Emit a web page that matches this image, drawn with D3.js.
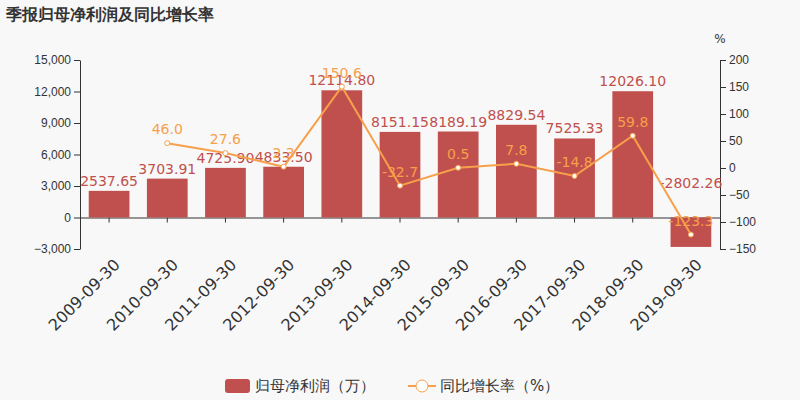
<!DOCTYPE html>
<html><head><meta charset="utf-8">
<script src="https://cdn.jsdelivr.net/npm/d3@7"></script>
<style>body{margin:0;background:#f8f8f8;font-family:"DejaVu Sans",sans-serif}</style>
</head><body><svg id="c" width="800" height="400"></svg>
<script>
var dates = ["2009-09-30","2010-09-30","2011-09-30","2012-09-30","2013-09-30","2014-09-30","2015-09-30","2016-09-30","2017-09-30","2018-09-30","2019-09-30"];
var profit = [2537.65,3703.91,4725.90,4833.50,12114.80,8151.15,8189.19,8829.54,7525.33,12026.10,-2802.26];
var growth = [null,46.0,27.6,2.3,150.6,-32.7,0.5,7.8,-14.8,59.8,-123.3];
var leftTicks = [-3000,0,3000,6000,9000,12000,15000];
var rightTicks = [-150,-100,-50,0,50,100,150,200];

var barColor="#c0504d", lineColor="#f7a04b";
var svg=d3.select("#c");
var x=d3.scaleBand().domain(dates).range([80,720]).paddingInner(0.3).paddingOuter(0.15);
var yL=d3.scaleLinear().domain([-3000,15000]).range([249,60]);
var yR=d3.scaleLinear().domain([-150,200]).range([249,60]);

svg.append("text").attr("x",6).attr("y",20).text("季报归母净利润及同比增长率")
  .style("font-size","16px").style("font-weight","bold").attr("fill","#333");

var gl=svg.append("g").attr("transform","translate(80,0)").call(d3.axisLeft(yL).tickValues(leftTicks).tickFormat(d3.format(",")).tickSizeOuter(0));
var gr=svg.append("g").attr("transform","translate(720,0)").call(d3.axisRight(yR).tickValues(rightTicks).tickSizeOuter(0));
svg.append("text").attr("x",720).attr("y",43).attr("text-anchor","middle").text("%").style("font-size","12px").attr("fill","#333");
[gl,gr].forEach(function(g){g.selectAll("text").style("font-size","12px").attr("fill","#333");g.selectAll("line,path").attr("stroke","#333");});

var gx=svg.append("g").attr("transform","translate(0,"+yL(0)+")").call(d3.axisBottom(x).tickSizeOuter(0).tickSize(5));
gx.selectAll("line,path").attr("stroke","#333");
gx.selectAll("text").remove();
svg.append("g").selectAll("text").data(dates).enter().append("text")
  .attr("transform",function(d){return "translate("+(x(d)+x.bandwidth()/2+4)+",258) rotate(-45)";})
  .attr("text-anchor","end").attr("dy","0.7em").text(function(d){return d;})
  .style("font-size","16px").attr("fill","#333");

svg.append("g").selectAll("rect").data(profit).enter().append("rect")
  .attr("x",function(d,i){return x(dates[i]);}).attr("width",x.bandwidth())
  .attr("y",function(d){return yL(Math.max(0,d));}).attr("height",function(d){return Math.abs(yL(d)-yL(0));})
  .attr("fill",barColor);

svg.append("g").selectAll("text").data(profit).enter().append("text")
  .attr("x",function(d,i){return x(dates[i])+x.bandwidth()/2;})
  .attr("y",function(d){return d<0?yL(0)-30:yL(d)-5;})
  .attr("text-anchor","middle").text(function(d){return d.toFixed(2);})
  .style("font-size","14px").attr("fill",barColor);

var pts=growth.map(function(v,i){return {v:v,d:dates[i]};}).filter(function(p){return p.v!=null;});
var line=d3.line().x(function(p){return x(p.d)+x.bandwidth()/2;}).y(function(p){return yR(p.v);});
svg.append("path").datum(pts).attr("d",line).attr("fill","none").attr("stroke",lineColor).attr("stroke-width",2);
svg.append("g").selectAll("circle").data(pts).enter().append("circle")
  .attr("cx",function(p){return x(p.d)+x.bandwidth()/2;}).attr("cy",function(p){return yR(p.v);})
  .attr("r",2.5).attr("fill","#fff").attr("stroke",lineColor);
svg.append("g").selectAll("text").data(pts).enter().append("text")
  .attr("x",function(p){return x(p.d)+x.bandwidth()/2;}).attr("y",function(p){return yR(p.v)-9;})
  .attr("text-anchor","middle").text(function(p){return p.v.toFixed(1);})
  .style("font-size","14px").attr("fill",lineColor);

var lg=svg.append("g");
lg.append("rect").attr("x",225).attr("y",379).attr("width",25).attr("height",14).attr("rx",3).attr("fill",barColor);
lg.append("text").attr("x",255).attr("y",391).text("归母净利润（万）").style("font-size","15px").attr("fill","#333");
lg.append("line").attr("x1",408).attr("x2",436).attr("y1",386).attr("y2",386).attr("stroke",lineColor).attr("stroke-width",2);
lg.append("circle").attr("cx",422).attr("cy",386).attr("r",6).attr("fill","#fff").attr("stroke",lineColor);
lg.append("text").attr("x",440).attr("y",391).text("同比增长率（%）").style("font-size","15px").attr("fill","#333");
</script></body></html>
